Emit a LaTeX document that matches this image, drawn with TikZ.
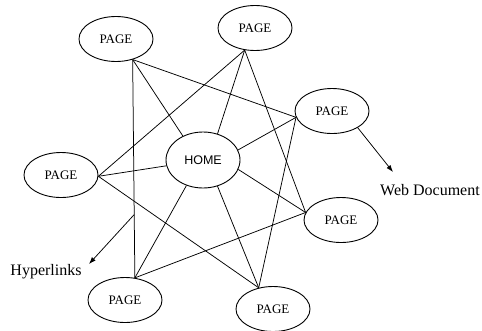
\documentclass[tikz,border=0pt]{standalone}
\usepackage{fontspec}
\setmainfont{Liberation Serif}
\setsansfont{Liberation Sans}
\usetikzlibrary{shapes.geometric,arrows.meta,calc}
\begin{document}
\begin{tikzpicture}[x=1pt,y=-1pt,
    page/.style ={ellipse, draw, line width=0.9pt, inner sep=0pt, minimum width=74pt, minimum height=45pt, font=\fontsize{13}{15}\selectfont},
    home/.style ={page, minimum width=74pt, minimum height=56pt, font=\sffamily\fontsize{12.5}{14}\selectfont},
    link/.style ={line width=0.75pt},
    pointer/.style ={line width=0.75pt, -{Latex[length=7pt,width=5pt]}},
    note/.style ={font=\fontsize{16}{18}\selectfont, inner sep=0pt}]
   \useasboundingbox (0,0) rectangle (482,330);
   \node[page] (P1) at (116,39) {PAGE};
   \node[page] (P2) at (255,28) {PAGE};
   \node[page] (P3) at (332,111) {PAGE};
   \node[home] (H) at (203,160) {HOME};
   \node[page] (P4) at (61,175) {PAGE};
   \node[page] (P5) at (341,220) {PAGE};
   \node[page] (P6) at (125,300) {PAGE};
   \node[page] (P7) at (273,309) {PAGE};
   \node[note] (hyper) at (46,272) {Hyperlinks};
   \node[note, anchor=west] (web) at (380,190) {Web Document};
   % hyperlinks
   \draw[link] (P1.-51) -- (P6.66);
   \draw[link] (P1.-51) -- (H.130);
   \draw[link] (P1.-51) -- (P3.190);
   \draw[link] (P2.-115) -- (P4.-2);
   \draw[link] (P2.-115) -- (H.61);
   \draw[link] (P2.-115) -- (P5.168);
   \draw[link] (P3.190) -- (H.16);
   \draw[link] (P3.190) -- (P7.124);
   \draw[link] (H.-15) -- (P5.168);
   \draw[link] (H.-61) -- (P7.124);
   \draw[link] (H.-123) -- (P6.66);
   \draw[link] (H.189) -- (P4.-2);
   \draw[link] (P4.-2) -- (P7.124);
   \draw[link] (P6.66) -- (P5.168);
   % labels
   \coordinate (hl) at ($(P1.-51)!0.71!(P6.66)$);
   \coordinate (hltip) at (89,264);
   \coordinate (wdtip) at (393,172);
   \draw[pointer] (hl) -- (hltip);
   \draw[pointer] (P3.-33) -- (wdtip);
\end{tikzpicture}
\end{document}
